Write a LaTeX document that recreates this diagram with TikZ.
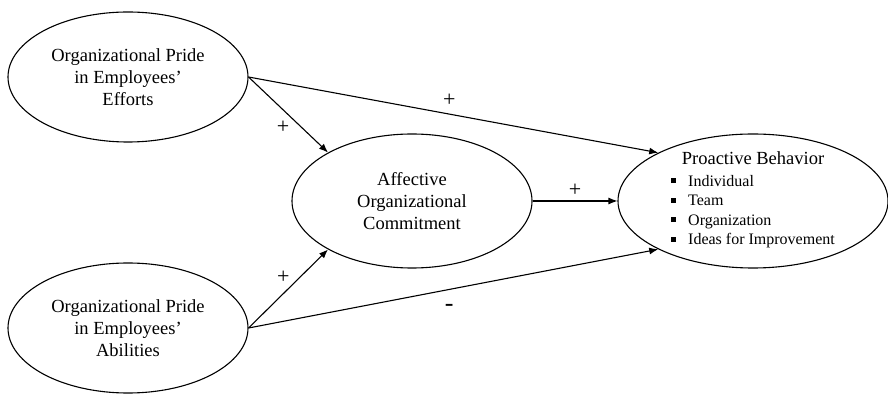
\documentclass[tikz,border=0pt]{standalone}
\usepackage{fontspec}
\setmainfont{Liberation Serif}
\usetikzlibrary{shapes.geometric,arrows.meta}

\newcommand{\itembox}{\raisebox{3pt}{\rule{5pt}{5pt}}\hspace{12pt}}

\tikzset{
  oval/.style={ellipse, draw=black, line width=1.1pt, inner sep=0pt, align=center, font=\fontsize{18.5}{22}\selectfont},
  link/.style={-{Latex[length=9pt,width=7pt]}, line width=1.1pt},
  sign/.style={font=\fontsize{22}{24}\selectfont, inner sep=0pt}
}

\begin{document}
\begin{tikzpicture}[node distance=251pt]
\useasboundingbox (-128pt,77pt) rectangle (760pt,-318pt);

\node (efforts) [oval, minimum width=240pt, minimum height=130pt] {Organizational Pride\\ in Employees’\\ Efforts};

\node (abilities) [oval, minimum width=240pt, minimum height=130pt, below of=efforts] {Organizational Pride\\ in Employees’\\ Abilities};

\node (commit) [oval, minimum width=240pt, minimum height=134pt, right of=efforts, xshift=33pt, yshift=-124pt] {Affective\\ Organizational\\ Commitment};

\node (proactive) [oval, minimum width=270pt, minimum height=134pt, right of=commit, xshift=90pt] {};
\node (protext) [align=center, font=\fontsize{18.5}{22}\selectfont] at (proactive) {Proactive Behavior\\ {\fontsize{16}{19.5}\selectfont\begin{tabular}[t]{@{}l@{}}\itembox Individual\\ \itembox Team\\ \itembox Organization\\ \itembox Ideas for Improvement\end{tabular}}};

\draw[link] (efforts.east) -- node[sign, pos=0.49, yshift=14pt] (s1) {+} (proactive.153);
\draw[link] (efforts.east) -- node[sign, pos=0.66, xshift=-18pt] (s2) {+} (commit.150);
\draw[link] (abilities.east) -- node[sign, pos=0.64, xshift=-16pt] (s3) {+} (commit.210);
\draw[link] (abilities.east) -- node[sign, pos=0.49, yshift=-19pt, font=\fontsize{26}{28}\selectfont] (s4) {-} (proactive.207);
\draw[link] (commit) -- node[sign, yshift=11pt] (s5) {+} (proactive);

\end{tikzpicture}
\end{document}
